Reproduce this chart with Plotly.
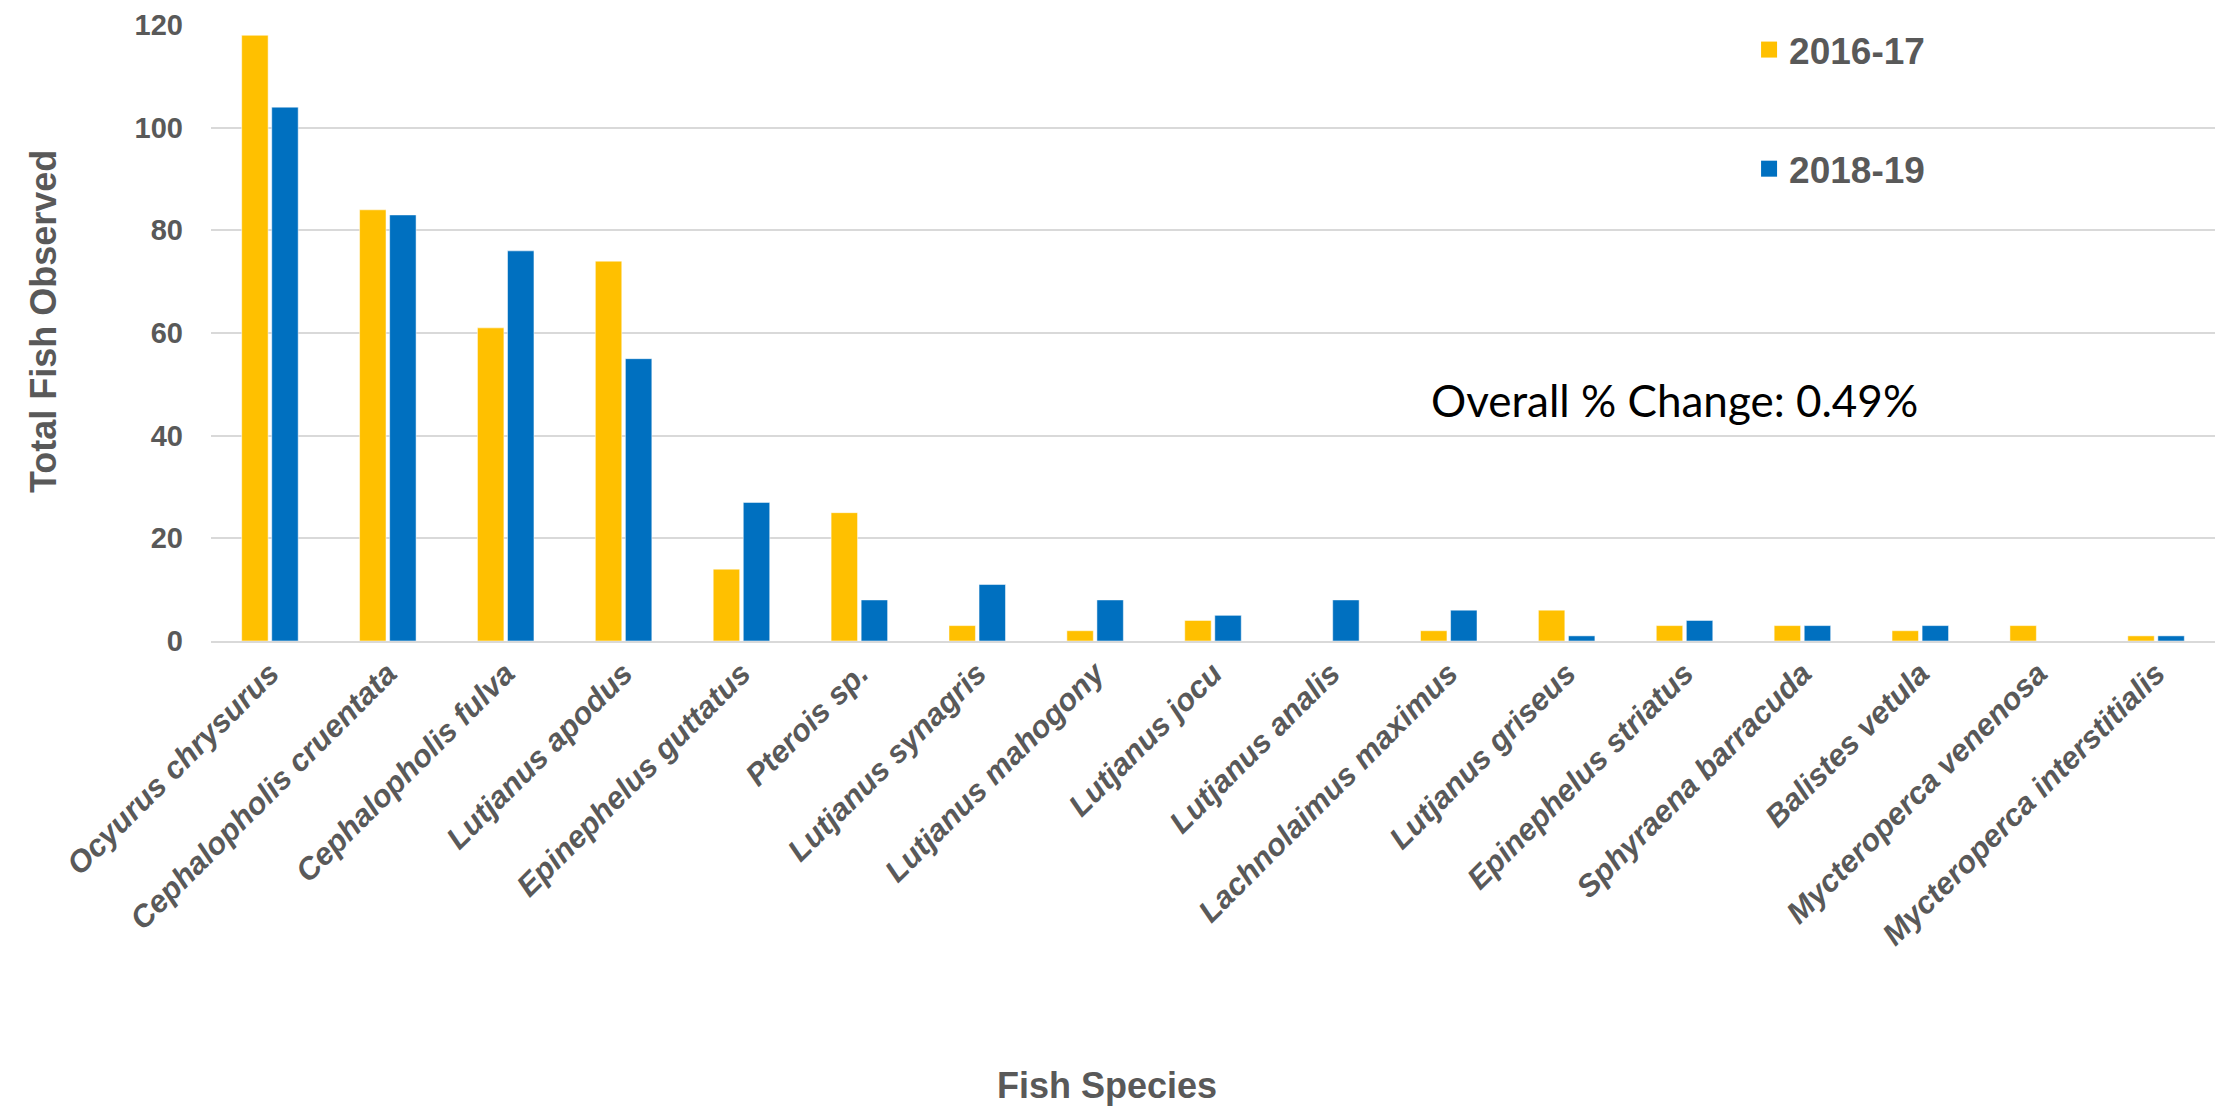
import plotly.graph_objects as go

# fish counts by species, two survey periods
species = [
    "Ocyurus chrysurus", "Cephalopholis cruentata", "Cephalopholis fulva",
    "Lutjanus apodus", "Epinephelus guttatus", "Pterois sp.",
    "Lutjanus synagris", "Lutjanus mahogony", "Lutjanus jocu",
    "Lutjanus analis", "Lachnolaimus maximus", "Lutjanus griseus",
    "Epinephelus striatus", "Sphyraena barracuda", "Balistes vetula",
    "Mycteroperca venenosa", "Mycteroperca interstitialis",
]
counts_2016_17 = [118, 84, 61, 74, 14, 25, 3, 2, 4, 0, 2, 6, 3, 3, 2, 3, 1]
counts_2018_19 = [104, 83, 76, 55, 27, 8, 11, 8, 5, 8, 6, 1, 4, 3, 3, 0, 1]
y_ticks = [0, 20, 40, 60, 80, 100, 120]
periods = ["2016-17", "2018-19"]
colors = ["#FFC000", "#0070C0"]

grey = "#595959"
font = "Liberation Sans, Arial"

fig = go.Figure()
for name, vals, col in zip(periods, [counts_2016_17, counts_2018_19], colors):
    fig.add_trace(go.Bar(x=species, y=vals, name=name, marker_color=col,
                         marker_line=dict(width=1, color="rgba(255,255,255,0.5)"),
                         showlegend=False))
    # legend-only entry with a bigger square symbol
    fig.add_trace(go.Scatter(x=[None], y=[None], mode="markers", name=name,
                             legendgroup=name,
                             marker=dict(symbol="square", size=19, color=col)))

fig.update_layout(
    width=2234, height=1106,
    plot_bgcolor="white", paper_bgcolor="white",
    margin=dict(l=203, r=27, t=17, b=473, autoexpand=False),
    barmode="group", bargap=0.49, bargroupgap=0.12,
    font=dict(family=font, color=grey),
    legend=dict(x=0.7675, y=1.0097, xanchor="left", yanchor="top",
                traceorder="grouped", tracegroupgap=68,
                bgcolor="rgba(0,0,0,0)",
                font=dict(size=37, color=grey, family=font, weight="bold")),
    xaxis=dict(
        tickangle=-45, automargin=False,
        tickfont=dict(size=31, family=font, style="italic",
                      weight="bold", color=grey),
        ticklabelstandoff=0,
        showline=True, linecolor="#D9D9D9", linewidth=2,
        ticks="",
    ),
    yaxis=dict(
        range=[0, 120], tickvals=y_ticks, automargin=False,
        tickfont=dict(size=29, weight="bold", color=grey),
        ticklabelstandoff=27, ticklabeloverflow="allow",
        showgrid=True, gridcolor="#D9D9D9", gridwidth=2,
        zeroline=False, ticks="",
    ),
    annotations=[
        dict(text="Overall % Change: 0.49%", xref="paper", yref="paper",
             x=0.608, y=0.3916, xanchor="left", yanchor="middle", showarrow=False,
             font=dict(size=44, family="Lato", color="black")),
        dict(text="<b>Fish Species</b>", xref="paper", yref="paper",
             x=0.447, y=-0.7224, xanchor="center", yanchor="middle",
             showarrow=False, font=dict(size=36, color=grey, family=font)),
        dict(text="<b>Total Fish Observed</b>", xref="paper", yref="paper",
             x=-0.0838, y=0.5178, xanchor="center", yanchor="middle",
             textangle=-90, showarrow=False,
             font=dict(size=36, color=grey, family=font)),
    ],
)

fig.write_html("out.html")
